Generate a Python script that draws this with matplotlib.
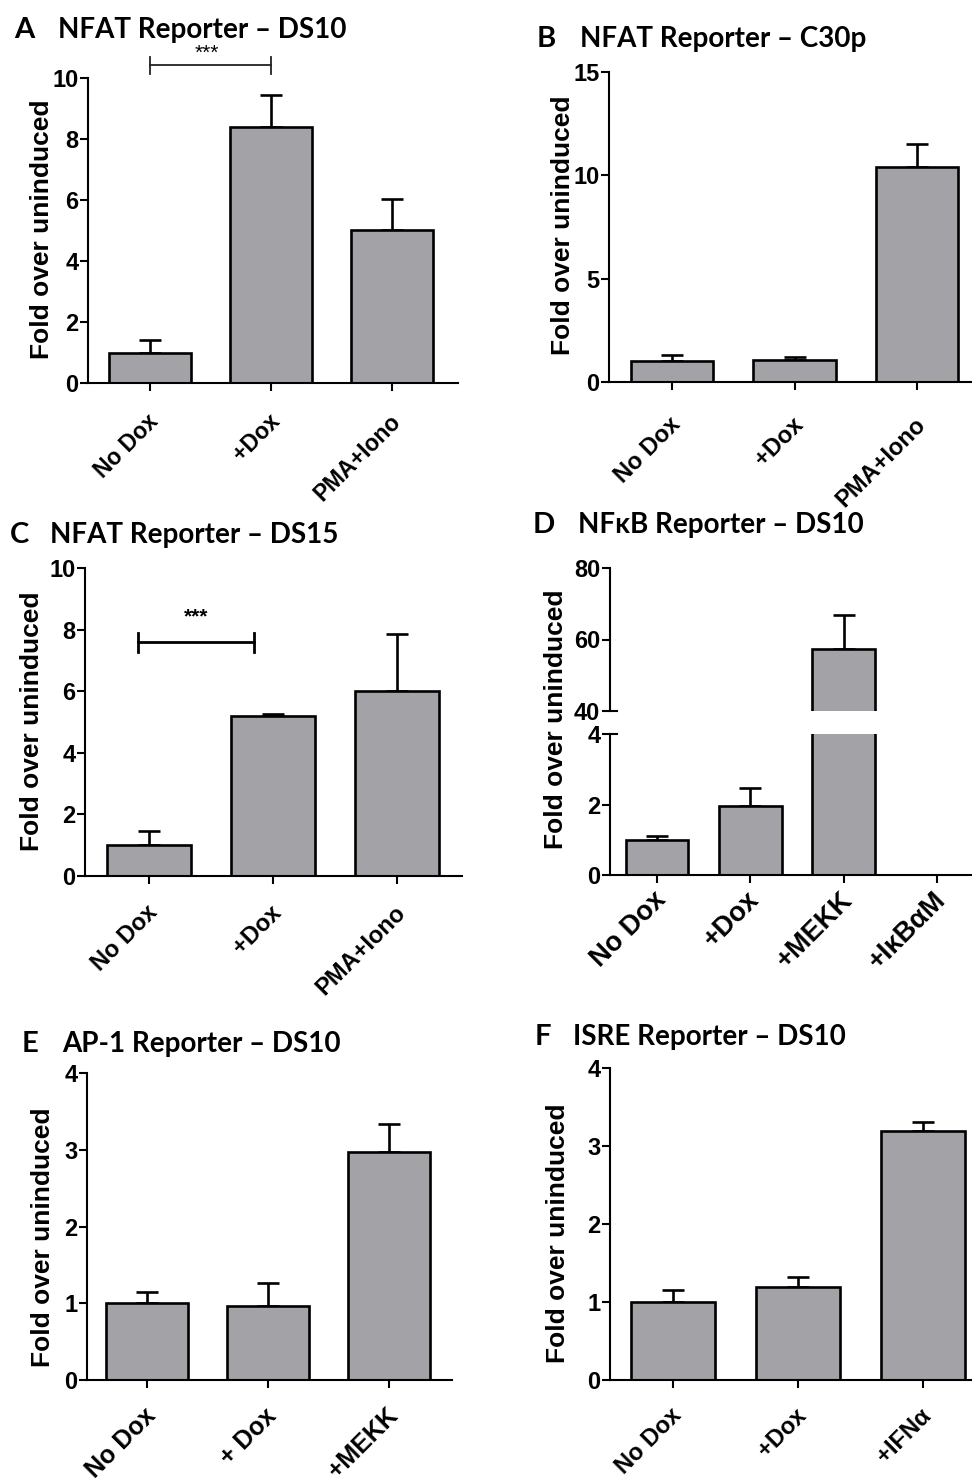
import matplotlib
matplotlib.use('Agg')
import matplotlib.pyplot as plt
import matplotlib.transforms as mtransforms
import numpy as np
from matplotlib import font_manager

W, H = 972, 1483
GREY = '#a3a3a7'

# ---- data ----
a_labels = ['No Dox', '+Dox', 'PMA+Iono']
a_vals = [1.0, 8.38, 5.03]
a_err = [0.42, 1.05, 1.0]

b_labels = ['No Dox', '+Dox', 'PMA+Iono']
b_vals = [1.0, 1.08, 10.42]
b_err = [0.3, 0.14, 1.08]

c_labels = ['No Dox', '+Dox', 'PMA+Iono']
c_vals = [1.0, 5.18, 6.02]
c_err = [0.46, 0.07, 1.83]

d_labels = ['No Dox', '+Dox', '+MEKK', '+IκBαM']
d_vals = [1.0, 1.96, 57.3, 0.0]
d_err = [0.12, 0.5, 9.6, 0.0]

e_labels = ['No Dox', '+ Dox', '+MEKK']
e_vals = [1.0, 0.96, 2.97]
e_err = [0.15, 0.31, 0.37]

f_labels = ['No Dox', '+Dox', '+IFNα']
f_vals = [1.0, 1.19, 3.19]
f_err = [0.16, 0.13, 0.12]

names = {f.name for f in font_manager.fontManager.ttflist}
TICKFONT = 'Liberation Sans Narrow' if 'Liberation Sans Narrow' in names else 'Liberation Sans'
LABELFONT = 'Liberation Sans'
TITLEFONT = 'Lato'

fig = plt.figure(figsize=(W / 100, H / 100), dpi=100)


def make_axes(spine, right, top, bottom, tick0, step):
    ax = fig.add_axes([spine / W, 1 - bottom / H, (right - spine) / W, (bottom - top) / H])
    ax.set_xlim((spine - tick0) / step, (right - tick0) / step)
    for s in ['top', 'right']:
        ax.spines[s].set_visible(False)
    for s in ['left', 'bottom']:
        ax.spines[s].set_linewidth(1.5)
    ax.tick_params(direction='out', length=6, width=1.5, pad=1)
    return ax


def style_yticks(ax):
    for t in ax.get_yticklabels():
        t.set_fontfamily(TICKFONT)
        t.set_fontweight('bold')
        t.set_fontsize(17)


def draw_bars(ax, vals, errs, width=0.67):
    x = np.arange(len(vals))
    ax.bar(x, vals, width, color=GREY, edgecolor='black', linewidth=1.9, zorder=2)
    ax.errorbar(x, vals, yerr=[np.zeros(len(errs)), errs], fmt='none', ecolor='black',
                elinewidth=1.9, capsize=8, capthick=1.9, zorder=1)


def set_labels(ax, labels, size, pad, shift=5):
    ax.set_xticks(np.arange(len(labels)))
    ax.set_xticklabels(labels, rotation=45, ha='right', va='center', rotation_mode='anchor',
                       fontsize=size, fontweight='bold', family=LABELFONT)
    ax.tick_params(axis='x', pad=pad)
    offset = mtransforms.ScaledTranslation(shift / 100, 0, fig.dpi_scale_trans)
    for t in ax.get_xticklabels():
        t.set_transform(t.get_transform() + offset)
    style_yticks(ax)


def title(letter, lx, tx, base, text):
    fig.text(lx / W, 1 - base / H, letter, fontsize=21, fontweight='bold', family=TITLEFONT, va='baseline')
    fig.text(tx / W, 1 - base / H, text, fontsize=20, fontweight='bold', family=TITLEFONT, va='baseline')


def ylabel(x, y):
    fig.text(x / W, 1 - y / H, 'Fold over uninduced', rotation=90, ha='center', va='center',
             fontsize=19, fontweight='bold', family=LABELFONT)


# ---- A ----
ax = make_axes(88, 458, 78, 383, 150, 121)
draw_bars(ax, a_vals, a_err)
ax.set_ylim(0, 10)
ax.set_yticks([0, 2, 4, 6, 8, 10])
set_labels(ax, a_labels, 16.5, 19)
ax.plot([0, 1], [10.43, 10.43], color='#222222', lw=1.3, clip_on=False)
for xx in [0, 1]:
    ax.plot([xx, xx], [10.13, 10.69], color='#222222', lw=1.3, clip_on=False)
ax.text(0.47, 10.5, '***', ha='center', va='bottom', fontsize=15, family=LABELFONT, clip_on=False)
title('A', 14, 58, 38, 'NFAT Reporter – DS10')
ylabel(42, 229)

# ---- B ----
ax = make_axes(609, 972, 72, 382, 672, 122.5)
draw_bars(ax, b_vals, b_err)
ax.set_ylim(0, 15)
ax.set_yticks([0, 5, 10, 15])
set_labels(ax, b_labels, 17, 22)
title('B', 537, 580, 47, 'NFAT Reporter – C30p')
ylabel(563, 225)

# ---- C ----
ax = make_axes(85, 462, 568, 876, 149, 124)
draw_bars(ax, c_vals, c_err)
ax.set_ylim(0, 10)
ax.set_yticks([0, 2, 4, 6, 8, 10])
set_labels(ax, c_labels, 17, 18)
ax.plot([-0.09, 0.85], [7.6, 7.6], color='black', lw=2, clip_on=False)
for xx in [-0.09, 0.85]:
    ax.plot([xx, xx], [7.27, 7.9], color='black', lw=2, clip_on=False)
ax.text(0.38, 8.1, '***', ha='center', va='bottom', fontsize=15, fontweight='bold', family=LABELFONT)
title('C', 10, 50, 543, 'NFAT Reporter – DS15')
ylabel(32, 721)

# ---- D (broken axis) ----
ax_u = make_axes(610, 972, 568, 711, 657, 93.3)
ax_l = make_axes(610, 972, 734, 875, 657, 93.3)
for a in (ax_u, ax_l):
    draw_bars(a, d_vals, d_err, width=0.675)
ax_u.set_ylim(40, 80)
ax_u.set_yticks([40, 60, 80])
ax_u.spines['bottom'].set_visible(False)
ax_u.tick_params(axis='x', bottom=False, labelbottom=False)
style_yticks(ax_u)
ax_l.set_ylim(0, 4)
ax_l.set_yticks([0, 2, 4])
set_labels(ax_l, d_labels, 19.5, 9)
ax_u.plot([0, 0.018], [40, 40], transform=ax_u.get_yaxis_transform(), color='black', lw=1.5, clip_on=False)
ax_l.plot([0, 0.018], [4, 4], transform=ax_l.get_yaxis_transform(), color='black', lw=1.5, clip_on=False)
title('D', 533, 578, 533, 'NFκB Reporter – DS10')
ylabel(556, 719)

# ---- E ----
ax = make_axes(87, 452, 1073, 1380, 147, 121)
draw_bars(ax, e_vals, e_err)
ax.set_ylim(0, 4)
ax.set_yticks([0, 1, 2, 3, 4])
set_labels(ax, e_labels, 18, 17)
title('E', 22, 62, 1052, 'AP-1 Reporter – DS10')
ylabel(43, 1237)

# ---- F ----
ax = make_axes(610, 972, 1068, 1380, 673, 125)
draw_bars(ax, f_vals, f_err)
ax.set_ylim(0, 4)
ax.set_yticks([0, 1, 2, 3, 4])
set_labels(ax, f_labels, 17, 17)
title('F', 535, 573, 1045, 'ISRE Reporter – DS10')
ylabel(558, 1233)

fig.savefig('out.png', dpi=100)
